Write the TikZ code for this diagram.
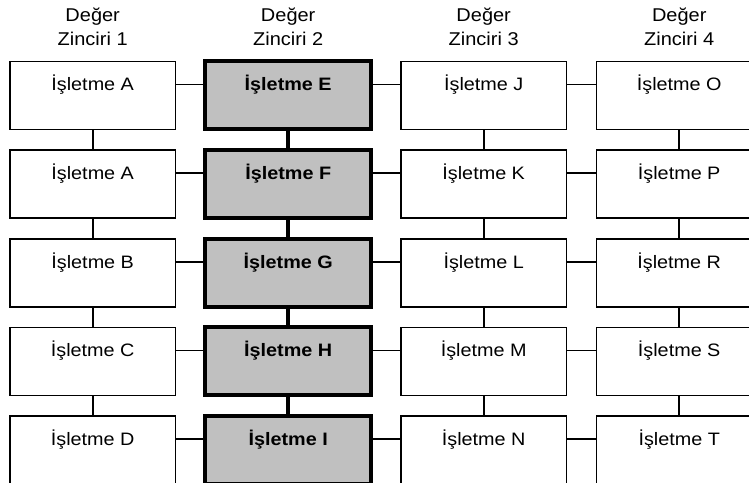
\documentclass[tikz,border=0pt]{standalone}
\usepackage{fontspec}
\setmainfont{Liberation Sans}
\newfontfamily\boxfont[FakeStretch=1.1]{Liberation Sans}
\newfontfamily\headfont[FakeStretch=1.08]{Liberation Sans}
\definecolor{chaingray}{RGB}{192,192,192}
\tikzset{
  firm/.style={draw=black, line width=1.6pt, fill=white, rectangle,
    minimum width=165.5pt, minimum height=68pt, inner sep=0pt, outer sep=0pt,
    text height=29.5pt, text depth=38.5pt,
    font=\boxfont\fontsize{18}{21}\selectfont},
  focal/.style={firm, fill=chaingray, line width=4pt,
    font=\boxfont\fontsize{18}{21}\selectfont\bfseries},
  head/.style={align=center, inner sep=0pt, anchor=base,
    font=\headfont\fontsize{18.5}{23.3}\selectfont},
  link/.style={line width=1.6pt},
  spine/.style={line width=3.6pt}
}
\begin{document}
\begin{tikzpicture}[x=1pt, y=-1pt]
\clip (0,0) rectangle (749,482);
\fill[white] (0,0) rectangle (749,482);

% column headers (anchored on the baseline of the second line)
\node[head] (h1) at (92.7,45) {Değer\\Zinciri 1};
\node[head] (h2) at (288.2,45) {Değer\\Zinciri 2};
\node[head] (h3) at (483.7,45) {Değer\\Zinciri 3};
\node[head] (h4) at (679.2,45) {Değer\\Zinciri 4};

% firms, one row per tier; the middle chain is highlighted
\foreach \r/\a/\b/\c/\d in {0/A/E/J/O, 1/A/F/K/P, 2/B/G/L/R, 3/C/H/M/S, 4/D/I/N/T}{
  \pgfmathsetmacro{\cy}{95.3+88.7*\r}
  \node[firm]  (c1r\r) at (92.7,\cy)  {İşletme \a};
  \node[focal] (c2r\r) at (288.2,\cy) {İşletme \b};
  \node[firm]  (c3r\r) at (483.7,\cy) {İşletme \c};
  \node[firm]  (c4r\r) at (679.2,\cy) {İşletme \d};
}

% horizontal links between neighbouring chains
\foreach \r in {0,...,4}{
  \draw[link] ([yshift=-23pt]c1r\r.north east) -- ([yshift=-23pt]c2r\r.north west);
  \draw[link] ([yshift=-23pt]c2r\r.north east) -- ([yshift=-23pt]c3r\r.north west);
  \draw[link] ([yshift=-23pt]c3r\r.north east) -- ([yshift=-23pt]c4r\r.north west);
}

% vertical links down each chain
\foreach \r/\n in {0/1,1/2,2/3,3/4}{
  \draw[link]  (c1r\r.south) -- (c1r\n.north);
  \draw[spine] (c2r\r.south) -- (c2r\n.north);
  \draw[link]  (c3r\r.south) -- (c3r\n.north);
  \draw[link]  (c4r\r.south) -- (c4r\n.north);
}
\end{tikzpicture}
\end{document}
